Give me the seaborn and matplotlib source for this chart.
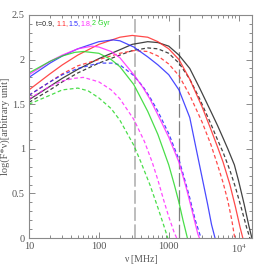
import numpy as np
import pandas as pd
import matplotlib
matplotlib.use("Agg")
import matplotlib.pyplot as plt
from matplotlib.ticker import FixedLocator, FixedFormatter, MultipleLocator, LogLocator, NullFormatter, FuncFormatter
import seaborn as sns

# frequency [MHz] and log(F*nu) for each age (solid / dashed model)
nu_09 = [10, 20, 30, 50, 100, 200, 300, 500, 700, 1000, 1400, 2000, 2770, 4000, 5000, 6000, 7000, 8700, 10000, 12000, 14000, 15500]
s_09 = [1.55, 1.70, 1.79, 1.89, 2.01, 2.11, 2.17, 2.20, 2.19, 2.15, 2.05, 1.90, 1.68, 1.42, 1.26, 1.12, 1.00, 0.82, 0.64, 0.38, 0.14, 0.0]
nu_09d = [10, 20, 30, 50, 100, 200, 300, 500, 700, 1000, 1400, 2000, 2770, 4000, 5000, 6000, 7500, 9000, 11000, 13000, 14500]
d_09 = [1.52, 1.66, 1.75, 1.85, 1.96, 2.05, 2.10, 2.13, 2.12, 2.07, 1.96, 1.78, 1.56, 1.28, 1.10, 0.96, 0.76, 0.57, 0.33, 0.12, 0.0]

nu_11 = [10, 20, 30, 50, 100, 200, 300, 500, 700, 1000, 1400, 2000, 3000, 4000, 5000, 6000, 7500, 9000, 10500, 11500]
s_11 = [1.66, 1.84, 1.94, 2.05, 2.17, 2.25, 2.27, 2.25, 2.20, 2.12, 2.00, 1.78, 1.47, 1.22, 1.02, 0.85, 0.60, 0.35, 0.12, 0.0]
nu_11d = [10, 20, 30, 50, 100, 200, 316, 500, 700, 1000, 1400, 2000, 3000, 4000, 5000, 6000, 7000, 8000, 8800]
d_11 = [1.60, 1.75, 1.84, 1.93, 2.00, 2.07, 2.10, 2.09, 2.04, 1.95, 1.82, 1.60, 1.30, 1.05, 0.82, 0.62, 0.42, 0.20, 0.0]

nu_15 = [10, 20, 30, 50, 100, 160, 200, 316, 500, 700, 1000, 1400, 2000, 2500, 3000, 3600, 4100, 4600]
s_15 = [1.80, 1.96, 2.04, 2.12, 2.20, 2.22, 2.21, 2.14, 2.03, 1.94, 1.83, 1.66, 1.35, 0.98, 0.68, 0.38, 0.15, 0.0]
nu_15d = [10, 20, 30, 50, 100, 160, 200, 316, 425, 536, 700, 1000, 1400, 1700, 2000, 2400, 2900]
d_15 = [1.60, 1.75, 1.83, 1.90, 1.96, 1.96, 1.94, 1.82, 1.70, 1.58, 1.42, 1.17, 0.88, 0.65, 0.45, 0.20, 0.0]

nu_18 = [10, 20, 30, 50, 80, 100, 150, 200, 316, 425, 536, 700, 1000, 1400, 1800, 2200, 2600, 2750]
s_18 = [1.83, 1.98, 2.05, 2.12, 2.15, 2.14, 2.09, 2.02, 1.83, 1.69, 1.56, 1.38, 1.13, 0.85, 0.55, 0.28, 0.05, 0.0]
nu_18d = [10, 20, 30, 45, 60, 100, 150, 200, 316, 450, 580, 700, 850, 1000, 1200, 1300]
d_18 = [1.56, 1.70, 1.76, 1.79, 1.80, 1.75, 1.66, 1.56, 1.33, 1.08, 0.85, 0.65, 0.42, 0.24, 0.06, 0.0]

nu_20 = [10, 20, 30, 45, 60, 100, 150, 200, 316, 500, 700, 1000, 1200, 1400, 1600, 1850]
s_20 = [1.85, 1.98, 2.04, 2.08, 2.09, 2.07, 2.00, 1.92, 1.72, 1.42, 1.16, 0.82, 0.60, 0.40, 0.20, 0.0]
nu_20d = [10, 20, 30, 50, 70, 100, 150, 200, 316, 400, 536, 700, 850, 970]
d_20 = [1.50, 1.60, 1.66, 1.68, 1.65, 1.57, 1.45, 1.32, 1.04, 0.85, 0.60, 0.34, 0.14, 0.0]

ages = ["0.9", "1.1", "1.5", "1.8", "2"]
colors = ["#222222", "#ff2a2a", "#2a2aff", "#ff2aff", "#2ad82a"]
curves = [
    ("0.9", "solid", nu_09, s_09), ("0.9", "dashed", nu_09d, d_09),
    ("1.1", "solid", nu_11, s_11), ("1.1", "dashed", nu_11d, d_11),
    ("1.5", "solid", nu_15, s_15), ("1.5", "dashed", nu_15d, d_15),
    ("1.8", "solid", nu_18, s_18), ("1.8", "dashed", nu_18d, d_18),
    ("2", "solid", nu_20, s_20), ("2", "dashed", nu_20d, d_20),
]

rows = []
for age, kind, xs, ys in curves:
    for x, y in zip(xs, ys):
        rows.append({"nu": x, "flux": y, "age": age, "kind": kind, "curve": age + kind})
df = pd.DataFrame(rows)

sns.set_style("ticks")
plt.rcParams["font.family"] = ["Liberation Serif", "DejaVu Serif"]
plt.rcParams["mathtext.fontset"] = "stix"

fig = plt.figure(figsize=(2.66, 2.66), dpi=100)
ax = fig.add_axes([0.109, 0.105, 0.838, 0.839])

sns.lineplot(data=df, x="nu", y="flux", hue="age", style="kind", units="curve",
             estimator=None, sort=False, palette=dict(zip(ages, colors)),
             dashes={"solid": "", "dashed": (3, 2)}, linewidth=0.9,
             alpha=0.85, legend=False, ax=ax)

ax.axvline(325, color="#bdbdbd", lw=1.4, dashes=(7, 1.8), zorder=0)
ax.axvline(1400, color="#808080", lw=0.9, dashes=(11, 2.8), zorder=0)

ax.set_xscale("log")
ax.set_xlim(10, 15500)
ax.set_ylim(0, 2.5)
ax.xaxis.set_major_locator(FixedLocator([10, 100, 1000, 10000]))
ax.xaxis.set_major_formatter(FixedFormatter(["10", "100", "1000", "10$^4$"]))
ax.xaxis.set_minor_locator(LogLocator(base=10, subs=np.arange(2, 10)))
ax.xaxis.set_minor_formatter(NullFormatter())
ax.yaxis.set_major_locator(MultipleLocator(0.5))
ax.yaxis.set_minor_locator(MultipleLocator(0.1))
ax.yaxis.set_major_formatter(FuncFormatter(lambda v, p: f"{v:g}"))

ax.tick_params(which="both", direction="in", top=True, right=True,
               color="#8a8a8a", labelcolor="#555555", labelsize=7.5, width=0.7)
ax.tick_params(which="major", length=4, pad=3)
ax.tick_params(which="minor", length=2)
for sp in ax.spines.values():
    sp.set_color("#8a8a8a")
    sp.set_linewidth(0.8)

ax.set_xlabel("ν [MHz]", fontsize=7, color="#555555", labelpad=0)
ax.set_ylabel("log(F*ν)[arbitrary unit]", fontsize=7.5, color="#555555", labelpad=1)

# coloured age list in the top-left corner, pieces chained one after another
legend_bits = ["t=0.9, ", "1.1,", "1.5,", "1.8,", "2 Gyr"]
prev = ax.text(0.031, 0.962, legend_bits[0], transform=ax.transAxes, color=colors[0],
               fontsize=5.1, family=["Liberation Sans", "DejaVu Sans"], va="center", ha="left")
for txt, c in zip(legend_bits[1:], colors[1:]):
    prev = ax.annotate(txt, xy=(1, 0.5), xycoords=prev, color=c, fontsize=5.1,
                       family=["Liberation Sans", "DejaVu Sans"], va="center", ha="left")

fig.savefig("out.png", dpi=100)
